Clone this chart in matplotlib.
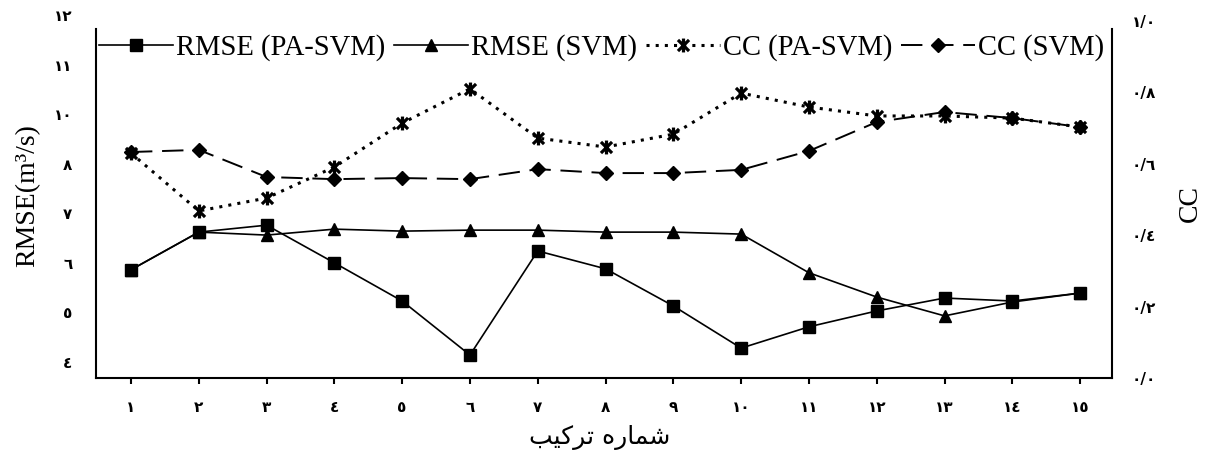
"""RMSE and CC of PA-SVM vs SVM for the 15 input combinations."""
import matplotlib
matplotlib.use('Agg')
import matplotlib.pyplot as plt
from matplotlib.path import Path

# combination number (x axis)
combos = list(range(1, 16))
combo_labels = ['١', '٢', '٣', '٤', '٥', '٦', '٧', '٨', '٩', '١٠',
                '١١', '١٢', '١٣', '١٤', '١٥']

# RMSE
rmse_pa_svm = [5.86, 6.62, 6.76, 6.00, 5.23, 4.14, 6.24, 5.88, 5.13, 4.28,
               4.71, 5.03, 5.29, 5.23, 5.39]
rmse_svm = [5.86, 6.62, 6.56, 6.68, 6.64, 6.66, 6.66, 6.62, 6.62, 6.58,
            5.80, 5.31, 4.93, 5.21, 5.39]

# CC
cc_pa_svm = [0.630, 0.468, 0.504, 0.591, 0.714, 0.810, 0.672, 0.647, 0.683, 0.798,
             0.759, 0.734, 0.734, 0.728, 0.703]
cc_svm = [0.633, 0.639, 0.563, 0.557, 0.560, 0.557, 0.585, 0.574, 0.574, 0.583,
          0.636, 0.717, 0.745, 0.728, 0.703]

# tick labels as printed in the figure (the "9" is missing on the left axis)
rmse_ticks = [4, 5, 6, 7, 8, 9, 10, 11]
rmse_tick_labels = ['٤', '٥', '٦', '٧', '٨', '١٠', '١١', '١٢']
cc_ticks = [0.0, 0.2, 0.4, 0.6, 0.8, 1.0]
cc_tick_labels = ['٠/٠', '٠/٢', '٠/٤', '٠/٦', '٠/٨', '١/٠']

# "شماره ترکیب" pre-shaped (presentation forms, visual order) since matplotlib does no Arabic shaping
xlabel = '\uFE90\uFBFF\uFB90\uFEAE\uFE97 \uFEE9\uFEAD\uFE8E\uFEE4\uFEB7'

W, H = 1207, 454
fig = plt.figure(figsize=(W / 100, H / 100), dpi=100)
ax = fig.add_axes([96 / W, 76 / H, 1016 / W, 363 / H])
ax2 = ax.twinx()

# star marker: X with a vertical bar
star = Path([(0, -1), (0, 1), (-0.8, -0.8), (0.8, 0.8), (-0.8, 0.8), (0.8, -0.8)],
            [Path.MOVETO, Path.LINETO] * 3)

lw = 1.2
h1, = ax.plot(combos, rmse_pa_svm, color='black', lw=lw, marker='s', markersize=9,
              label='RMSE (PA-SVM)', zorder=3)
h2, = ax.plot(combos, rmse_svm, color='black', lw=lw, marker='^', markersize=9,
              label='RMSE (SVM)', zorder=2)
h3, = ax2.plot(combos, cc_pa_svm, color='black', lw=2.2, linestyle=(0, (1, 2.0)),
               marker=star, markersize=10, markeredgewidth=2.3, label='CC (PA-SVM)')
h4, = ax2.plot(combos, cc_svm, color='black', lw=1.4, linestyle=(0, (11, 5)),
               marker='D', markersize=7, label='CC (SVM)')

# axes limits
ax.set_xlim(0.484, 15.47)
ax.set_ylim(3.677, 11.0)
ax2.set_ylim(0, 1.0168)

tick_font = dict(fontsize=11, fontweight='bold', family='DejaVu Sans')
ax.set_xticks(combos)
ax.set_xticklabels(combo_labels, **tick_font)
ax.set_yticks(rmse_ticks)
ax.set_yticklabels(rmse_tick_labels, **tick_font)
ax2.set_yticks(cc_ticks)
ax2.set_yticklabels(cc_tick_labels, **tick_font)

ax.tick_params(axis='x', direction='out', length=4.5, width=1.5, pad=11)
ax.tick_params(axis='y', length=0, pad=17)
ax2.tick_params(axis='y', length=0, pad=14)

for a in (ax, ax2):
    a.spines['top'].set_visible(False)
    for s in a.spines.values():
        s.set_linewidth(1.5)
ax.spines['right'].set_visible(False)
ax2.spines['left'].set_visible(False)
ax2.spines['bottom'].set_visible(False)
ax.spines['left'].set_bounds(3.677, 10.717)
ax2.spines['right'].set_bounds(0, 0.9776)

# labels
fig.text(28 / W, 1 - 196 / H, 'RMSE(m³/s)', rotation=90, ha='center', va='center',
         fontsize=20, family='Liberation Serif')
fig.text(1190 / W, 1 - 203 / H, 'CC', rotation=90, ha='center', va='center',
         fontsize=20, family='Liberation Serif')
fig.text(600 / W, 1 - 437 / H, xlabel, ha='center', va='center', fontsize=18,
         family=['DejaVu Sans'])

leg = fig.legend(handles=[h1, h2, h3, h4], loc='center', ncol=4, frameon=False,
                 bbox_to_anchor=(601.5 / W, 1 - 48 / H),
                 prop={'family': 'Liberation Serif', 'size': 20.6},
                 handlelength=2.6, handletextpad=0.1, columnspacing=0.3,
                 borderpad=0, borderaxespad=0)

fig.savefig('out.png', dpi=100)
plt.close(fig)
